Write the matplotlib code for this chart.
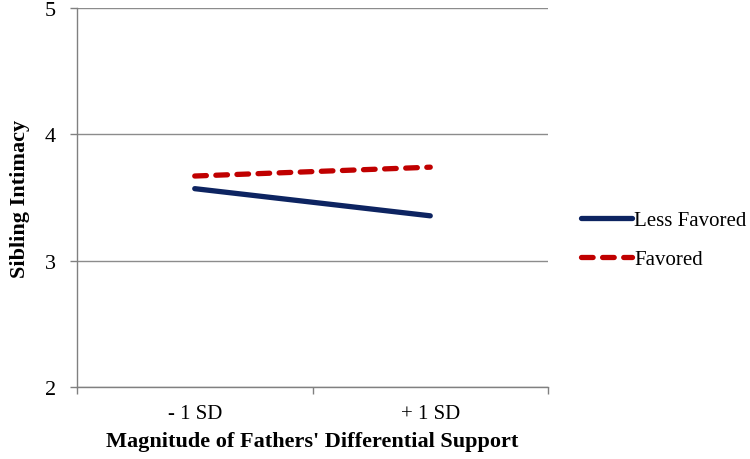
import matplotlib
matplotlib.use("Agg")
import matplotlib.pyplot as plt
import numpy as np

# data
categories = ['- 1 SD', '+ 1 SD']
less_favored = [3.57, 3.355]
favored = [3.67, 3.74]
yticks = [2, 3, 4, 5]

plt.rcParams['font.family'] = ['Liberation Serif', 'DejaVu Serif']

fig = plt.figure(figsize=(7.5, 4.6), dpi=100)
ax = fig.add_axes([77/750, 1 - 388/460, 471/750, 379/460])

x = np.arange(len(categories))
l1, = ax.plot(x, less_favored, color='#0d2461', lw=3.8, solid_capstyle='round',
              label='Less Favored')
l2, = ax.plot(x, favored, color='#c00000', lw=3.8, dashes=(2.2, 1.8),
              dash_capstyle='round', label='Favored')

ax.set_xlim(-0.5, len(categories) - 0.5)
ax.set_ylim(2, 5)
ax.set_yticks(yticks)
ax.set_yticklabels([str(v) for v in yticks])
ax.set_xticks(x)
ax.set_xticklabels(categories)
ax.set_xticks(np.arange(-0.5, len(categories)), minor=True)
ax.tick_params(axis='x', which='major', length=0, pad=12, labelsize=15)
ax.tick_params(axis='x', which='minor', length=5, color='#808080', width=1)
ax.tick_params(axis='y', length=5, color='#808080', width=1, pad=10, labelsize=16)

ax.grid(axis='y', color='#8c8c8c', lw=1)
ax.set_axisbelow(True)
for s in ['top', 'right']:
    ax.spines[s].set_visible(False)
for s in ['left', 'bottom']:
    ax.spines[s].set_color('#808080')
    ax.spines[s].set_linewidth(1)

ax.set_ylabel('Sibling Intimacy', fontsize=16, fontweight='bold', labelpad=11)
ax.set_xlabel("Magnitude of Fathers' Differential Support", fontsize=16,
              fontweight='bold', labelpad=6)

fig.legend(handles=[l1, l2], loc='center left', bbox_to_anchor=(581/750, 1 - 241/460),
           frameon=False, fontsize=15, handlelength=2.45, handletextpad=0.1,
           labelspacing=0.95, borderaxespad=0, borderpad=0)

fig.savefig('out.png', dpi=100)
